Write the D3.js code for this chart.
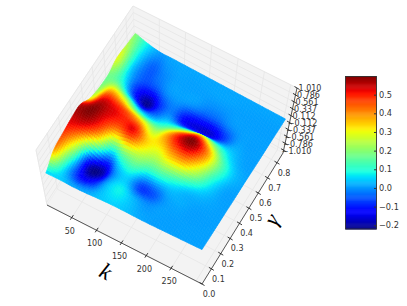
<!DOCTYPE html>
<html>
<head>
<meta charset="utf-8">
<script src="https://cdnjs.cloudflare.com/ajax/libs/d3/7.8.5/d3.min.js"></script>
<style>
body { margin: 0; background: #fff; }
text { font-family: "DejaVu Sans", sans-serif; }
</style>
</head>
<body>
<script>
// values
var kTicks = [50, 100, 150, 200, 250];
var gammaTicks = [0.0, 0.1, 0.2, 0.3, 0.4, 0.5, 0.6, 0.7, 0.8];
var zTicks = [1.010, 0.786, 0.561, 0.337, 0.112, -0.112, -0.337, -0.561, -0.786, -1.010];
var barTicks = [-0.2, -0.1, 0.0, 0.1, 0.2, 0.3, 0.4, 0.5];

var kGrid = [5, 30, 55, 80, 105, 130, 155, 180, 205, 230, 255, 280, 305];
var gammaGrid = [0.02, 0.10, 0.19, 0.27, 0.35, 0.44, 0.52, 0.60, 0.69, 0.77, 0.85];

// one row per gamma, one column per k
var surfaceZ = [
	[0.05, 0.05, 0.02, 0.02, 0.04, 0.05, 0.04, 0.02, 0.01, 0.01, 0.01, 0.01, 0.01],
	[0.38, 0.08, -0.12, -0.10, 0.03, 0.08, 0.03, 0.00, 0.01, 0.01, 0.01, 0.01, 0.01],
	[0.47, 0.26, -0.14, -0.19, 0.00, 0.05, -0.07, -0.05, 0.01, 0.02, 0.01, 0.01, 0.01],
	[0.54, 0.52, 0.37, 0.08, 0.17, 0.20, 0.14, 0.14, 0.10, 0.05, 0.03, 0.015, 0.01],
	[0.56, 0.60, 0.52, 0.46, 0.52, 0.35, 0.30, 0.38, 0.40, 0.27, 0.10, 0.02, 0.01],
	[0.30, 0.52, 0.51, 0.45, 0.36, 0.25, 0.38, 0.53, 0.60, 0.42, 0.18, 0.05, 0.015],
	[0.20, 0.35, 0.27, 0.10, 0.04, 0.08, 0.15, 0.25, 0.33, 0.20, 0.08, 0.02, 0.01],
	[0.18, 0.12, -0.08, -0.21, -0.08, -0.02, -0.13, -0.15, -0.15, -0.07, 0.01, 0.01, 0.01],
	[0.30, 0.05, -0.05, -0.05, 0.00, 0.01, 0.00, -0.03, -0.03, 0.00, 0.01, 0.01, 0.01],
	[0.25, 0.06, -0.04, -0.01, 0.01, 0.01, 0.01, 0.01, 0.01, 0.01, 0.01, 0.01, 0.01],
	[0.20, 0.08, 0.01, 0.015, 0.015, 0.015, 0.015, 0.015, 0.015, 0.015, 0.015, 0.015, 0.015]
];

var svg = d3.select("body").append("svg")
	.attr("width", 407)
	.attr("height", 306);

// scales from data to the box, 0..1 each way
var kScale = d3.scaleLinear().domain([0, 312]).range([0, 1]);
var gammaScale = d3.scaleLinear().domain([0, 0.864]).range([0, 1]);
var zScale = d3.scaleLinear().domain([-1.1, 1.01]).range([0, 1]);

// jet, same breakpoints as matplotlib
var barDomain = [-0.22, 0.6];
var barNorm = d3.scaleLinear().domain(barDomain).range([0, 1]).clamp(true);
var jetR = d3.scaleLinear().domain([0, 0.35, 0.66, 0.89, 1]).range([0, 0, 255, 255, 128]);
var jetG = d3.scaleLinear().domain([0, 0.125, 0.375, 0.64, 0.91, 1]).range([0, 0, 255, 255, 0, 0]);
var jetB = d3.scaleLinear().domain([0, 0.11, 0.34, 0.65, 1]).range([128, 255, 255, 0, 0]);
function jet(z) {
	var n = barNorm(z);
	return d3.rgb(jetR(n), jetG(n), jetB(n)).formatHex();
}

// bilinear map from the unit square to a quad a(0,0) b(1,0) c(1,1) d(0,1)
function quadMap(a, b, c, d) {
	return function(u, v) {
		return [0, 1].map(function(i) {
			return (1 - v) * (a[i] + u * (b[i] - a[i])) + v * (d[i] + u * (c[i] - d[i]));
		});
	};
}

// box corners as they sit in the picture
var floorMap = quadMap([47, 205], [202, 284], [283, 153], [136, 68]);
var topMap = quadMap([36, 150], [205, 228], [297, 88], [133, 6]);

function project(k, gamma, z) {
	var u = kScale(k), v = gammaScale(gamma), t = zScale(z);
	var f = floorMap(u, v), c = topMap(u, v);
	return [f[0] + (c[0] - f[0]) * t, f[1] + (c[1] - f[1]) * t];
}

var line = d3.line();
var kMax = kScale.domain()[1], gMax = gammaScale.domain()[1], zMin = zScale.domain()[0], zMax = zScale.domain()[1];

// walls and floor
var paneFill = "#f3f3f3", gridCol = "#e6e6e6", axisCol = "#444";
var panes = [
	[[0, 0, zMin], [0, gMax, zMin], [0, gMax, zMax], [0, 0, zMax]],
	[[0, gMax, zMin], [kMax, gMax, zMin], [kMax, gMax, zMax], [0, gMax, zMax]],
	[[0, 0, zMin], [kMax, 0, zMin], [kMax, gMax, zMin], [0, gMax, zMin]]
];
svg.append("g").selectAll("path")
	.data(panes).enter()
	.append("path")
	.attr("d", function(d) { return line(d.map(function(p) { return project(p[0], p[1], p[2]); })) + "Z"; })
	.style("fill", paneFill)
	.style("stroke", "#ececec")
	.style("stroke-width", 0.7);

// grid lines
var gridLines = [];
kTicks.concat([300]).forEach(function(k) {
	gridLines.push([[k, 0, zMin], [k, gMax, zMin], [k, gMax, zMax]]);
});
gammaTicks.forEach(function(g) {
	gridLines.push([[0, g, zMax], [0, g, zMin], [kMax, g, zMin]]);
});
zTicks.forEach(function(z) {
	gridLines.push([[0, 0, z], [0, gMax, z], [kMax, gMax, z]]);
});
svg.append("g").selectAll("path")
	.data(gridLines).enter()
	.append("path")
	.attr("d", function(d) { return line(d.map(function(p) { return project(p[0], p[1], p[2]); })); })
	.style("fill", "none")
	.style("stroke", gridCol)
	.style("stroke-width", 0.8);

// axis lines
var axisLines = [
	[[0, 0, zMin], [kMax, 0, zMin]],
	[[kMax, 0, zMin], [kMax, gMax, zMin]],
	[[kMax, gMax, zMin], [kMax, gMax, zMax]]
];
svg.append("g").selectAll("path")
	.data(axisLines).enter()
	.append("path")
	.attr("d", function(d) { return line(d.map(function(p) { return project(p[0], p[1], p[2]); })); })
	.style("fill", "none")
	.style("stroke", axisCol)
	.style("stroke-width", 0.9);

function addTicks(name, data, ends, labelAt, fmt) {
	var g = svg.append("g").attr("class", name).selectAll("g")
		.data(data).enter()
		.append("g");
	g.append("path")
		.attr("d", function(d) { return line(ends(d)); })
		.style("fill", "none")
		.style("stroke", "#222")
		.style("stroke-width", 0.9);
	g.append("text")
		.attr("x", function(d) { return labelAt(d)[0]; })
		.attr("y", function(d) { return labelAt(d)[1]; })
		.attr("dy", "0.36em")
		.attr("text-anchor", "middle")
		.style("font-size", "8px")
		.style("fill", "#333")
		.text(fmt);
}

addTicks("k-ticks", kTicks, function(k) {
	var p = project(k, 0, zMin);
	return [[p[0] - 1.5, p[1] + 2], [p[0] + 1.5, p[1] - 2.5]];
}, function(k) {
	var p = project(k, 0, zMin);
	return [p[0] - 2, p[1] + 13];
}, function(k) { return k; });

addTicks("gamma-ticks", gammaTicks, function(g) {
	var p = project(kMax, g, zMin);
	return [[p[0] - 2.5, p[1] - 1.5], [p[0] + 2.5, p[1] + 1.5]];
}, function(g) {
	var p = project(kMax, g, zMin);
	return [p[0] + 7, p[1] + 10];
}, d3.format(".1f"));

addTicks("z-ticks", zTicks, function(z) {
	var p = project(kMax, gMax, z);
	return [[p[0] - 2.5, p[1] - 1.5], [p[0] + 2.5, p[1] + 1.5]];
}, function(z) {
	var p = project(kMax, gMax, z);
	return [p[0] + 13, p[1] + 0.5];
}, function(z) { return d3.format(".3f")(z).replace("-", "\u2212"); });

// axis names
svg.append("text")
	.attr("transform", "translate(106,271) rotate(28)")
	.attr("text-anchor", "middle")
	.attr("dy", "0.35em")
	.style("font-family", "'Liberation Serif', serif")
	.style("font-style", "italic")
	.style("font-size", "23px")
	.style("fill", "#000")
	.text("k");
svg.append("text")
	.attr("transform", "translate(274,221) rotate(-60)")
	.attr("text-anchor", "middle")
	.attr("dy", "0.2em")
	.style("font-family", "'Liberation Serif', serif")
	.style("font-style", "italic")
	.style("font-size", "22px")
	.style("fill", "#000")
	.text("\u03b3");

// surface, the read values smoothed on a finer mesh just for drawing
function catmull(a, b, c, d, t) {
	return 0.5 * (2 * b + (c - a) * t + (2 * a - 5 * b + 4 * c - d) * t * t + (3 * b - a - 3 * c + d) * t * t * t);
}
function rowAt(arr, x) {
	var n = arr.length - 1;
	var i = Math.min(Math.floor(x), n - 1), t = x - i;
	return catmull(arr[Math.max(i - 1, 0)], arr[i], arr[i + 1], arr[Math.min(i + 2, n)], t);
}
function zAt(ix, iy) {
	var col = surfaceZ.map(function(r) { return rowAt(r, ix); });
	return rowAt(col, iy);
}
var sub = 8;
var iScale = d3.scaleLinear().domain([0, kGrid.length - 1]).range([kGrid[0], kGrid[kGrid.length - 1]]);
var jScale = d3.scaleLinear().domain([0, gammaGrid.length - 1]).range([gammaGrid[0], gammaGrid[gammaGrid.length - 1]]);
var nx = (kGrid.length - 1) * sub, ny = (gammaGrid.length - 1) * sub;
var mesh = [];
for (var jy = 0; jy <= ny; jy++) {
	var meshRow = [];
	for (var ix = 0; ix <= nx; ix++) {
		var fx = ix / sub, fy = jy / sub;
		var zv = zAt(fx, fy);
		meshRow.push({ z: zv, p: project(iScale(fx), jScale(fy), zv) });
	}
	mesh.push(meshRow);
}
// far corner first
var cells = [];
for (var cy = ny - 1; cy >= 0; cy--) {
	for (var cx = 0; cx < nx; cx++) {
		cells.push([mesh[cy][cx], mesh[cy][cx + 1], mesh[cy + 1][cx + 1], mesh[cy + 1][cx]]);
	}
}
svg.append("g").selectAll("path")
	.data(cells).enter()
	.append("path")
	.attr("d", function(d) { return line(d.map(function(m) { return m.p; })) + "Z"; })
	.style("fill", function(d) { return jet(d3.mean(d, function(m) { return m.z; })); })
	.style("stroke", function(d) { return jet(d3.mean(d, function(m) { return m.z; })); })
	.style("stroke-width", 0.6);

// colour bar
var barY = d3.scaleLinear().domain(barDomain).range([229, 76]);
var barSteps = d3.range(barDomain[0], barDomain[1], 0.005);
var bar = svg.append("g");
bar.selectAll("rect")
	.data(barSteps).enter()
	.append("rect")
	.attr("x", 345.5)
	.attr("width", 31)
	.attr("y", function(d) { return barY(d + 0.005); })
	.attr("height", function(d) { return barY(d) - barY(d + 0.005) + 0.5; })
	.style("fill", function(d) { return jet(d + 0.0025); });
bar.append("rect")
	.attr("x", 345.5).attr("y", 76.5).attr("width", 31).attr("height", 152.5)
	.style("fill", "none")
	.style("stroke", "#333")
	.style("stroke-width", 0.9);
var barAxis = svg.append("g")
	.attr("transform", "translate(376.5,0)")
	.call(d3.axisRight(barY)
		.tickValues(barTicks)
		.tickSize(-2.5)
		.tickPadding(5.5)
		.tickFormat(function(d) { return d3.format(".1f")(d).replace("-", "\u2212"); }));
barAxis.select(".domain").remove();
barAxis.selectAll("line").style("stroke", "#333");
barAxis.selectAll("text")
	.attr("x", 2.5)
	.style("font-family", "'DejaVu Sans', sans-serif")
	.style("font-size", "8.2px")
	.style("fill", "#333");
</script>
</body>
</html>
